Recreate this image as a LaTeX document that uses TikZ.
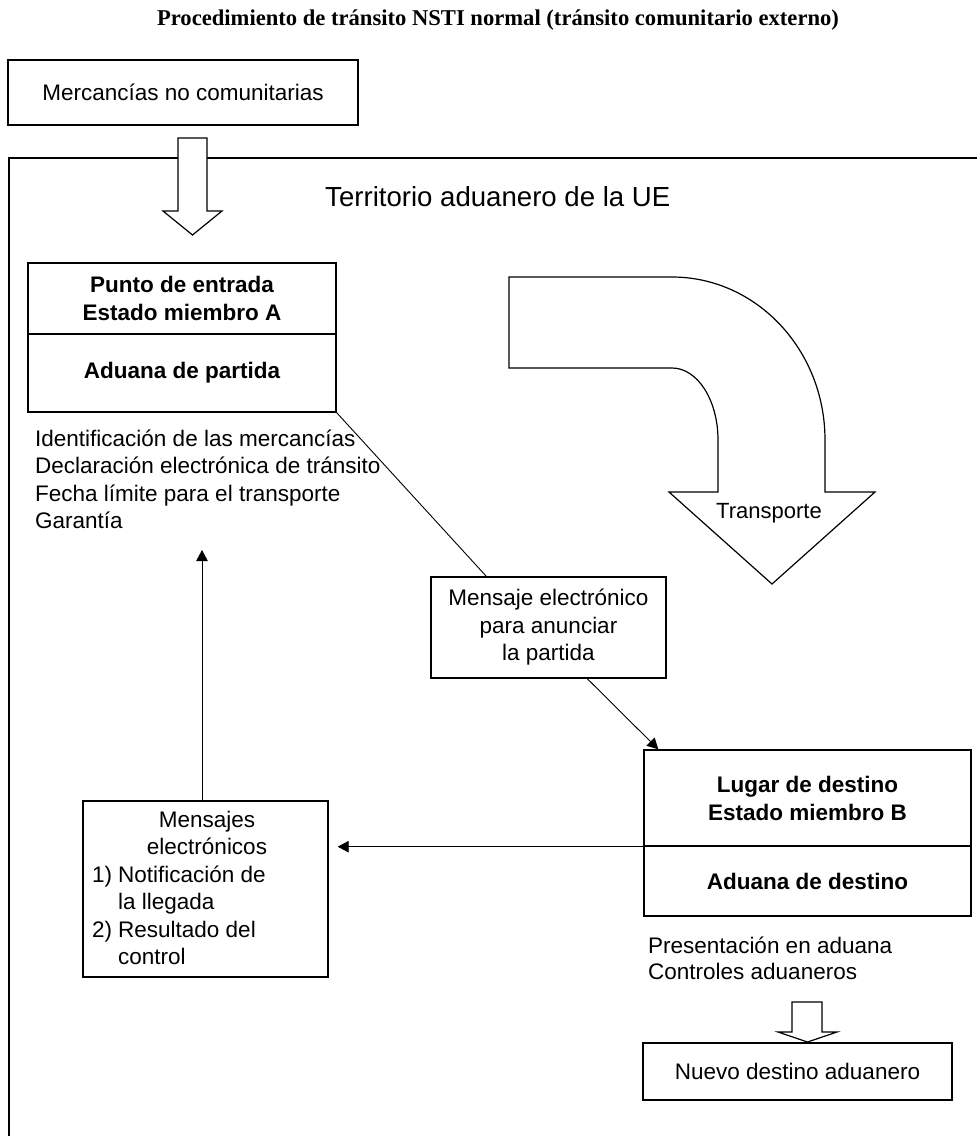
\documentclass[tikz,border=0pt]{standalone}
\usepackage{fontspec}
\setmainfont{Liberation Sans}
\newfontfamily\titlefont{Liberation Serif}
\usetikzlibrary{arrows.meta,calc}
\tikzset{
  box/.style={draw, line width=1.4pt, rectangle, inner sep=0pt, align=center,
    font=\fontsize{22.5}{27.5}\selectfont},
  boldbox/.style={box, font=\bfseries\fontsize{22.5}{28}\selectfont},
  txt/.style={inner sep=0pt, align=left, font=\fontsize{22.5}{27.5}\selectfont},
  conn/.style={line width=0.9pt},
  arr/.style={conn, -{Triangle[length=11pt,width=11.5pt]}},
  blockarrow/.style={draw, fill=white, line width=1.2pt, line join=miter},
  frame/.style={line width=1.4pt},
}
\begin{document}
\begin{tikzpicture}[x=1pt,y=-1pt]
\useasboundingbox (0,0) rectangle (977,1136);

% title
\node[inner sep=0pt, font=\titlefont\bfseries\fontsize{22.6}{27}\selectfont] (title) at (498,20)
  {Procedimiento de tránsito NSTI normal (tránsito comunitario externo)};

% outside goods
\node[box, minimum width=350pt, minimum height=65pt] (merc) at (183,92.5) {Mercancías no comunitarias};

% territory frame
\coordinate (terrTR) at (977,158);
\coordinate (terrTL) at (9,158);
\coordinate (terrBL) at (9,1136);
\draw[frame] (terrTR) -- (terrTL) -- (terrBL);
\node[inner sep=0pt, anchor=west, font=\fontsize{27.6}{32}\selectfont] (terr) at (325,197) {Territorio aduanero de la UE};

% entry block arrow
\draw[blockarrow] (178,138) -- (207,138) -- (207,211) -- (222,211) -- (192.5,235) -- (163,211) -- (178,211) -- cycle;

% departure office
\node[boldbox, minimum width=308pt, minimum height=71pt] (boxAtop) at (182,298.5) {Punto de entrada\\Estado miembro A};
\node[boldbox, minimum width=308pt, minimum height=78pt] (boxAbot) at (182,373) {Aduana de partida};
\node[txt, anchor=north west] (listA) at (35,429.5)
  {Identificación de las mercancías\\Declaración electrónica de tránsito\\Fecha límite para el transporte\\Garantía};

% transport curved arrow
\draw[blockarrow] (509,277) -- (672,277) .. controls (756.5,277) and (825,350) .. (825,440)
  -- (825,492) -- (875,492) -- (772,584) -- (669,492) -- (718,492) -- (718,440)
  .. controls (718,400) and (697.4,368) .. (672,368) -- (509,368) -- cycle;
\node[inner sep=0pt, font=\fontsize{22}{26}\selectfont] (transp) at (769,513) {Transporte};

% message box
\node[box, minimum width=235pt, minimum height=101pt] (msg) at (548.5,627.5)
  {Mensaje electrónico\\para anunciar\\la partida};

% destination office
\node[boldbox, minimum width=327pt, minimum height=96pt] (boxBtop) at (807.5,798) {Lugar de destino\\Estado miembro B};
\node[boldbox, minimum width=327pt, minimum height=70pt] (boxBbot) at (807.5,881) {Aduana de destino};
\node[txt, anchor=north west, font=\fontsize{22.5}{26}\selectfont] (listB) at (648,936.5)
  {Presentación en aduana\\Controles aduaneros};

% messages back
\node[box, minimum width=245pt, minimum height=176pt] (msgs) at (205.5,889) {};
\node[txt, align=center] (msgsT) at (207,833) {Mensajes\\electrónicos};
\node[txt, anchor=north west] (msgsL) at (92,863)
  {\begin{tabular}{@{}l@{\hspace{6pt}}l@{}}1)&Notificación de\\&la llegada\\2)&Resultado del\\&control\end{tabular}};

% new destination
\draw[blockarrow] (792,1002) -- (822,1002) -- (822,1032) -- (837,1032) -- (807.5,1042) -- (778,1032) -- (792,1032) -- cycle;
\node[box, minimum width=309pt, minimum height=57pt] (nuevo) at (797.5,1071.5) {Nuevo destino aduanero};

% connectors
\coordinate (garTip) at (202,550);
\draw[conn] (boxAbot.south east) -- ([xshift=56pt]msg.north west);
\draw[arr] ([xshift=157pt]msg.south west) -- ([xshift=15pt]boxBtop.north west);
\draw[arr] (boxBtop.south west) -- ($(msgs.east |- boxBtop.south west)+(9,0)$);
\draw[arr] ([xshift=-3.5pt]msgs.north) -- (garTip);
\end{tikzpicture}
\end{document}
